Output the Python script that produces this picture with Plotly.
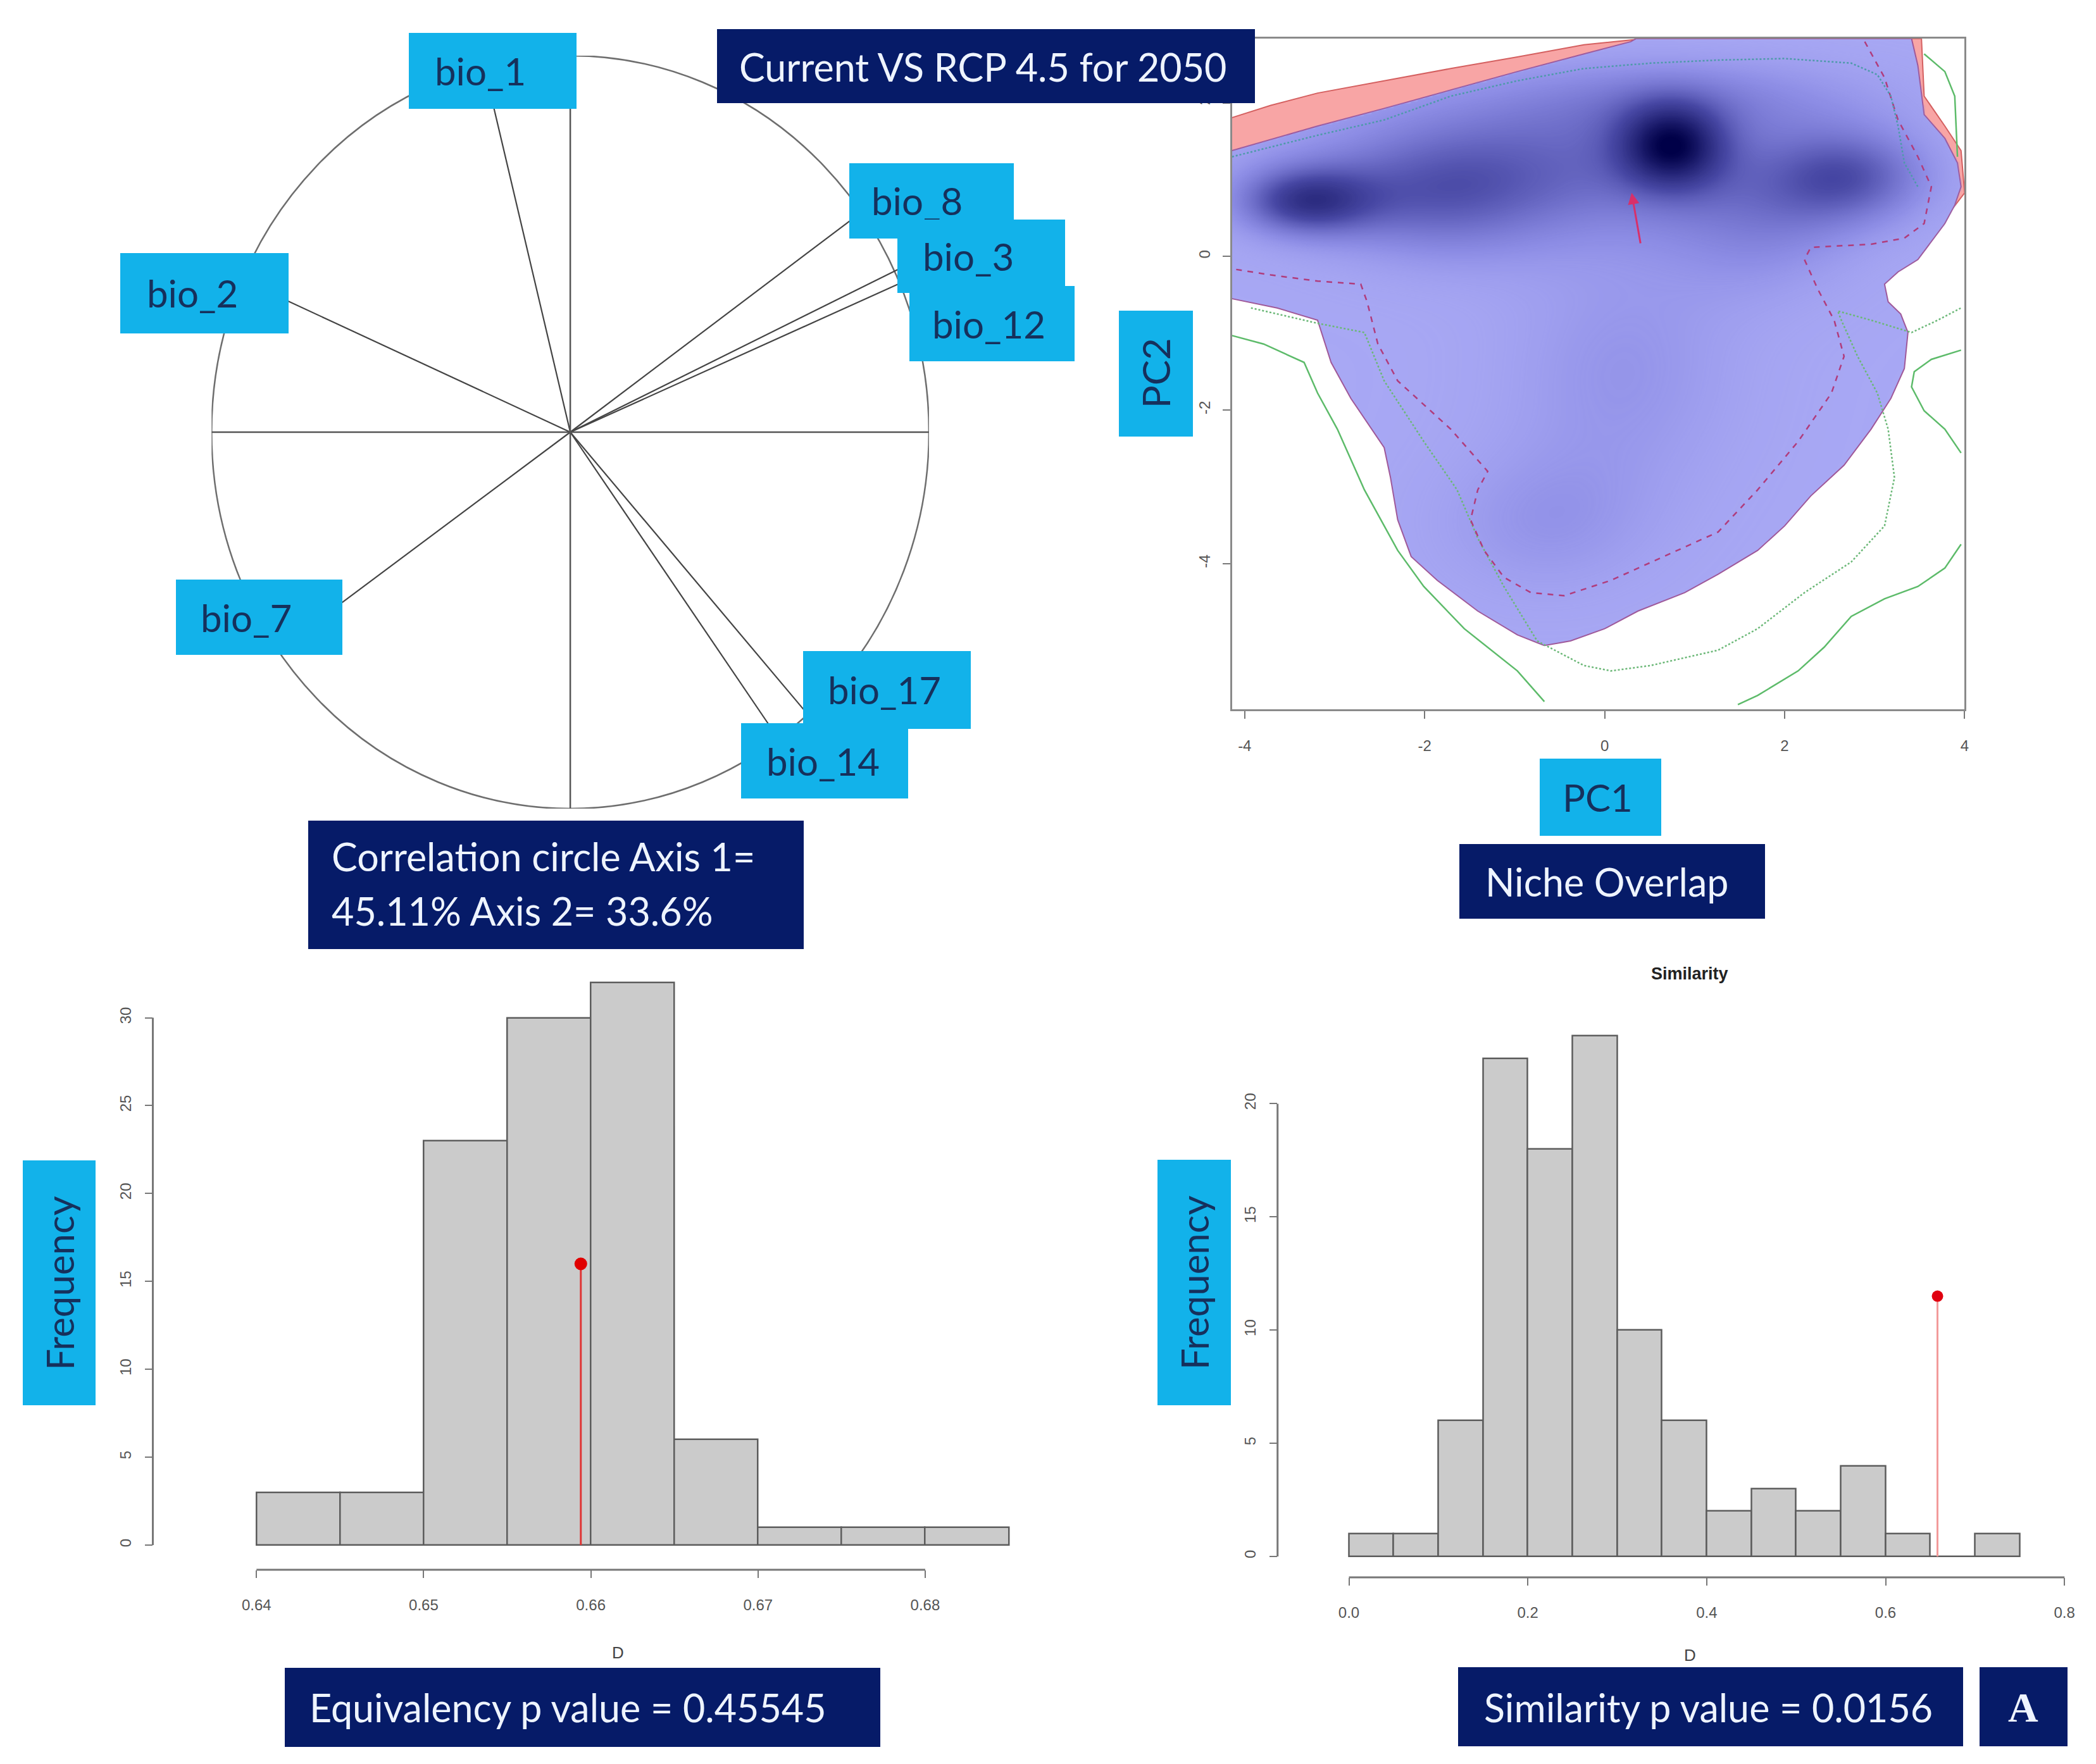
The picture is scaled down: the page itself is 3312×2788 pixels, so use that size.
import numpy as np
import plotly.graph_objects as go

W, H = 3312, 2788
def X(px): return px / W
def Y(py): return 1 - py / H

# ---------------- data ----------------
# correlation circle (variable loadings)
var_names = ["bio_1", "bio_2", "bio_8", "bio_3", "bio_12", "bio_7", "bio_17", "bio_14"]
var_x = [-0.23, -0.85, 0.80, 0.93, 0.93, -0.68, 0.68, 0.57]
var_y = [0.93, 0.376, 0.576, 0.44, 0.40, -0.484, -0.77, -0.80]

# niche overlap: outlines (PC1, PC2)
pink_x = [-4.14, -3.71, -3.19, -2.45, -1.71, -0.97, -0.23, 0.44, 3.52, 3.55, 3.78, 3.96, 4.0, 3.85, 3.0, -4.14]
pink_y = [1.81, 1.97, 2.13, 2.29, 2.45, 2.60, 2.76, 2.84, 2.84, 2.09, 1.70, 1.38, 0.83, 0.60, 0.50, 1.0]
blue_x = [-4.14, -3.19, -2.45, -1.71, -0.97, -0.23, 0.29, 0.35, 3.41, 3.48, 3.55, 3.78, 3.92, 3.96, 3.89, 3.78,
          3.63, 3.48, 3.26, 3.11, 3.15, 3.29, 3.37, 3.33, 3.18, 2.96, 2.66, 2.29, 2.00, 1.70, 1.26, 0.89, 0.37,
          0.00, -0.38, -0.67, -0.97, -1.41, -1.86, -2.15, -2.30, -2.38, -2.45, -2.82, -3.04, -3.19, -3.64, -4.14]
blue_y = [1.38, 1.70, 1.93, 2.17, 2.41, 2.64, 2.80, 2.84, 2.84, 2.49, 1.85, 1.54, 1.22, 0.91, 0.67, 0.43,
          0.20, -0.04, -0.20, -0.36, -0.59, -0.75, -0.99, -1.46, -1.85, -2.25, -2.72, -3.12, -3.51, -3.83, -4.14,
          -4.38, -4.62, -4.85, -5.01, -5.07, -4.93, -4.62, -4.22, -3.91, -3.43, -2.88, -2.49, -1.85, -1.38, -0.83,
          -0.67, -0.55]
# density hot spots: centre x, centre y, spread x, spread y, weight
spot_x = [0.75, -3.35, 2.75, -0.60, -1.90, 0.20, -0.70, 1.80, 0.9]
spot_y = [1.45, 0.72, 1.05, 1.20, 0.70, -1.50, -3.50, 0.40, 2.1]
spot_sx = [0.42, 0.55, 0.65, 2.00, 0.90, 1.00, 0.90, 0.80, 1.6]
spot_sy = [0.40, 0.33, 0.45, 0.70, 0.60, 1.20, 0.70, 0.70, 0.4]
spot_w = [0.62, 0.55, 0.42, 0.40, 0.28, 0.20, 0.18, 0.22, 0.22]

green_l_x = [-4.14, -3.79, -3.34, -3.19, -2.97, -2.67, -2.30, -2.01, -1.56, -0.97, -0.67]
green_l_y = [-1.03, -1.14, -1.38, -1.78, -2.25, -3.04, -3.83, -4.30, -4.85, -5.40, -5.80]
green_rb_x = [3.96, 3.78, 3.48, 3.11, 2.74, 2.44, 2.15, 1.70, 1.48]
green_rb_y = [-3.75, -4.06, -4.30, -4.46, -4.69, -5.09, -5.40, -5.72, -5.84]
green_rm_x = [3.96, 3.63, 3.44, 3.41, 3.55, 3.78, 3.96]
green_rm_y = [-1.22, -1.34, -1.50, -1.70, -2.01, -2.25, -2.56]
green_rt_x = [3.55, 3.78, 3.89, 3.92]
green_rt_y = [2.64, 2.41, 2.09, 1.30]
gdot_x = [-3.93, -3.19, -2.67, -2.45, -2.01, -1.64, -1.41, -1.12, -0.75, -0.23, 0.07, 0.51, 1.26, 1.70, 2.22,
          2.74, 3.11, 3.22, 3.15, 3.03, 2.81, 2.63, 2.59, 2.96, 3.41, 3.70, 3.96]
gdot_y = [-0.67, -0.87, -0.99, -1.62, -2.41, -3.04, -3.67, -4.30, -5.01, -5.33, -5.40, -5.33, -5.13, -4.85, -4.38,
          -3.98, -3.51, -2.88, -2.25, -1.78, -1.30, -0.83, -0.71, -0.83, -0.99, -0.83, -0.67]
mag_x = [2.89, 3.11, 3.26, 3.48, 3.63, 3.55, 3.33, 2.96, 2.29, 2.22, 2.37, 2.55, 2.66, 2.52, 2.15, 1.70, 1.26,
         0.66, 0.07, -0.45, -0.82, -1.12, -1.34, -1.49, -1.41, -1.30, -1.71, -2.30, -2.52, -2.64, -2.71, -3.19,
         -3.71, -4.14]
mag_y = [2.80, 2.33, 1.78, 1.30, 0.91, 0.43, 0.24, 0.16, 0.12, -0.04, -0.43, -0.83, -1.30, -1.78, -2.41, -3.04,
         -3.59, -3.91, -4.22, -4.42, -4.38, -4.18, -3.83, -3.43, -3.04, -2.80, -2.25, -1.62, -1.14, -0.59, -0.36,
         -0.32, -0.24, -0.16]
teal_x = [-4.14, -3.19, -2.45, -1.71, -0.97, -0.23, 0.51, 1.26, 2.00, 2.74, 3.03, 3.18, 3.26, 3.33, 3.48]
teal_y = [1.30, 1.58, 1.78, 2.09, 2.29, 2.45, 2.52, 2.56, 2.58, 2.52, 2.37, 2.09, 1.70, 1.22, 0.91]
arrow_from = (0.40, 0.16)
arrow_to = (0.30, 0.83)

# equivalency histogram
eq_left = [0.640, 0.645, 0.650, 0.655, 0.660, 0.665, 0.670, 0.675, 0.680]
eq_counts = [3, 3, 23, 30, 32, 6, 1, 1, 1]
eq_binw = 0.005
eq_obs = 0.6594
eq_obs_h = 16
eq_xticks = [0.64, 0.65, 0.66, 0.67, 0.68]
eq_xtext = ["0.64", "0.65", "0.66", "0.67", "0.68"]
eq_yticks = [0, 5, 10, 15, 20, 25, 30]

# similarity histogram
sim_left = [0.00, 0.05, 0.10, 0.15, 0.20, 0.25, 0.30, 0.35, 0.40, 0.45, 0.50, 0.55, 0.60, 0.65, 0.70]
sim_counts = [1, 1, 6, 22, 18, 23, 10, 6, 2, 3, 2, 4, 1, 0, 1]
sim_binw = 0.05
sim_obs = 0.658
sim_obs_h = 11.5
sim_xticks = [0.0, 0.2, 0.4, 0.6, 0.8]
sim_xtext = ["0.0", "0.2", "0.4", "0.6", "0.8"]
sim_yticks = [0, 5, 10, 15, 20]

# ---------------- style ----------------
CYAN = "#12B2EA"
NAVY = "#061B68"
CYAN_TXT = "#16305C"
NAVY_TXT = "#EEF4FF"
FONT = "Lato"
AXF = dict(family="Liberation Sans", size=24, color="#555555")

fig = go.Figure()

# ---------- panel 1 : correlation circle ----------
for vx, vy in zip(var_x, var_y):
    fig.add_trace(go.Scatter(x=[0, vx], y=[0, vy], mode="lines", line=dict(color="#444444", width=2.2),
                             xaxis="x", yaxis="y", hoverinfo="skip"))
fig.add_trace(go.Scatter(x=[-1, 1], y=[0, 0], mode="lines", line=dict(color="#555555", width=2.5),
                         xaxis="x", yaxis="y"))
fig.add_trace(go.Scatter(x=[0, 0], y=[-1, 1], mode="lines", line=dict(color="#555555", width=2.5),
                         xaxis="x", yaxis="y"))

# ---------- panel 2 : niche overlap ----------
fig.add_trace(go.Scatter(x=pink_x, y=pink_y, fill="toself", fillcolor="#F8A5A5", mode="lines",
                         line=dict(color="#D46060", width=2), xaxis="x2", yaxis="y2"))
fig.add_trace(go.Scatter(x=blue_x, y=blue_y, fill="toself", fillcolor="#A8A8F4", mode="lines",
                         line=dict(color="#A05898", width=2), xaxis="x2", yaxis="y2"))

gx = np.linspace(-4.14, 4.0, 300)
gy = np.linspace(-5.9, 2.84, 320)
GX, GY = np.meshgrid(gx, gy)
dens = np.zeros_like(GX)
for cx, cy, sx, sy, w in zip(spot_x, spot_y, spot_sx, spot_sy, spot_w):
    dens += w * np.exp(-0.5 * (((GX - cx) / sx) ** 2 + ((GY - cy) / sy) ** 2))
dens = np.clip(dens, 0, 1)
bx = np.array(blue_x); by = np.array(blue_y)
inside = np.zeros(GX.shape, dtype=bool)
j = len(bx) - 1
for i in range(len(bx)):
    cond = ((by[i] > GY) != (by[j] > GY)) & (GX < (bx[j] - bx[i]) * (GY - by[i]) / (by[j] - by[i] + 1e-12) + bx[i])
    inside ^= cond
    j = i
dens = np.where(inside, dens, 0.0)
# density drawn on an overlay axis so that it sits above the filled niche polygons
fig.add_trace(go.Heatmap(x=gx, y=gy, z=dens, zmin=0, zmax=1, zsmooth="best", showscale=False,
                         colorscale=[[0, "rgba(150,150,235,0)"], [0.25, "rgba(115,115,215,0.5)"],
                                     [0.6, "rgba(55,55,150,0.85)"], [1, "rgba(0,0,72,1)"]],
                         xaxis="x5", yaxis="y5", hoverinfo="skip"))

for lx, ly in [(green_l_x, green_l_y), (green_rb_x, green_rb_y), (green_rm_x, green_rm_y), (green_rt_x, green_rt_y)]:
    fig.add_trace(go.Scatter(x=lx, y=ly, mode="lines", line=dict(color="#5DBB6A", width=2.5),
                             xaxis="x5", yaxis="y5"))
fig.add_trace(go.Scatter(x=gdot_x, y=gdot_y, mode="lines", line=dict(color="#6CB878", width=2.5, dash="dot"),
                         xaxis="x5", yaxis="y5"))
fig.add_trace(go.Scatter(x=mag_x, y=mag_y, mode="lines", line=dict(color="#B03C7C", width=2.5, dash="dash"),
                         xaxis="x5", yaxis="y5"))
fig.add_trace(go.Scatter(x=teal_x, y=teal_y, mode="lines", line=dict(color="#4E9AAA", width=2.5, dash="dot"),
                         xaxis="x5", yaxis="y5"))

# ---------- panel 3 : equivalency histogram ----------
eq_centers = [l + eq_binw / 2 for l in eq_left]
fig.add_trace(go.Bar(x=eq_centers, y=eq_counts, width=eq_binw, marker=dict(color="#CBCBCB",
                     line=dict(color="#5C5C5C", width=2.5)), xaxis="x3", yaxis="y3"))
fig.add_trace(go.Scatter(x=[eq_obs, eq_obs], y=[0, eq_obs_h], mode="lines", line=dict(color="#E03535", width=3),
                         xaxis="x3", yaxis="y3"))
fig.add_trace(go.Scatter(x=[eq_obs], y=[eq_obs_h], mode="markers", marker=dict(color="#E00000", size=20),
                         xaxis="x3", yaxis="y3"))

# ---------- panel 4 : similarity histogram ----------
sim_centers = [l + sim_binw / 2 for l in sim_left]
fig.add_trace(go.Bar(x=sim_centers, y=sim_counts, width=sim_binw, marker=dict(color="#CBCBCB",
                     line=dict(color="#5C5C5C", width=2.5)), xaxis="x4", yaxis="y4"))
fig.add_trace(go.Scatter(x=[sim_obs, sim_obs], y=[0, sim_obs_h], mode="lines", line=dict(color="#F29A9A", width=3),
                         xaxis="x4", yaxis="y4"))
fig.add_trace(go.Scatter(x=[sim_obs], y=[sim_obs_h], mode="markers", marker=dict(color="#E00010", size=18),
                         xaxis="x4", yaxis="y4"))

# ---------------- layout ----------------
tick_common = dict(ticks="outside", ticklen=12, tickwidth=2, tickcolor="#777777", tickfont=AXF,
                   showgrid=False, zeroline=False)
fig.update_layout(
    width=W, height=H, margin=dict(l=0, r=0, t=0, b=0), paper_bgcolor="white", plot_bgcolor="white",
    showlegend=False, bargap=0,
    xaxis=dict(domain=[X(327), X(1463)], range=[-1, 1], visible=False, anchor="y"),
    yaxis=dict(domain=[Y(1270), Y(80)], range=[-1, 1], visible=False, anchor="x"),
    xaxis2=dict(domain=[X(1943), X(3103)], range=[-4.14, 4.0], anchor="y2", showline=True, mirror=True,
                linecolor="#8A8A8A", linewidth=3, tickvals=[-4, -2, 0, 2, 4],
                ticktext=["-4", "-2", "0", "2", "4"], ticklabelstandoff=22, **tick_common),
    yaxis2=dict(domain=[Y(1113), Y(53)], range=[-5.9, 2.84], anchor="x2", showline=True, mirror=True,
                linecolor="#8A8A8A", linewidth=3, tickvals=[-4, -2, 0, 2], ticktext=["-4", "-2", "0", "2"],
                tickangle=-90, ticklabelstandoff=10, **tick_common),
    xaxis5=dict(overlaying="x2", range=[-4.14, 4.0], anchor="y5", visible=False),
    yaxis5=dict(overlaying="y2", range=[-5.9, 2.84], anchor="x5", visible=False),
    xaxis3=dict(domain=[X(234), X(1600)], range=[0.6338, 0.6854], anchor="y3", showline=False,
                tickvals=eq_xticks, ticktext=eq_xtext, ticklabelstandoff=22, **tick_common),
    yaxis3=dict(domain=[Y(2473), Y(1530)], range=[-1.4, 32.54], anchor="x3", showline=False,
                tickvals=eq_yticks, tickangle=-90, ticklabelstandoff=12, **tick_common),
    xaxis4=dict(domain=[X(2015), X(3290)], range=[-0.0798, 0.8204], anchor="y4", showline=False,
                tickvals=sim_xticks, ticktext=sim_xtext, ticklabelstandoff=22, **tick_common),
    yaxis4=dict(domain=[Y(2485), Y(1560)], range=[-0.922, 24.93], anchor="x4", showline=False,
                tickvals=sim_yticks, tickangle=-90, ticklabelstandoff=12, **tick_common),
)

shapes = [
    dict(type="circle", xref="x", yref="y", x0=-1, x1=1, y0=-1, y1=1, line=dict(color="#6E6E6E", width=2.5),
         layer="below"),
    dict(type="line", xref="x3", yref="y3 domain", x0=eq_xticks[0], x1=eq_xticks[-1], y0=0, y1=0,
         line=dict(color="#777777", width=3)),
    dict(type="line", xref="x3 domain", yref="y3", x0=0, x1=0, y0=eq_yticks[0], y1=eq_yticks[-1],
         line=dict(color="#777777", width=3)),
    dict(type="line", xref="x4", yref="y4 domain", x0=sim_xticks[0], x1=sim_xticks[-1], y0=0, y1=0,
         line=dict(color="#777777", width=3)),
    dict(type="line", xref="x4 domain", yref="y4", x0=0, x1=0, y0=sim_yticks[0], y1=sim_yticks[-1],
         line=dict(color="#777777", width=3)),
]
fig.update_layout(shapes=shapes)

ann = []
def box(x0, y0, x1, y1, color):
    ann.append(dict(xref="paper", yref="paper", x=X((x0 + x1) / 2), y=Y((y0 + y1) / 2), xanchor="center",
                    yanchor="middle", text="\u00a0", showarrow=False, bgcolor=color, borderpad=0, borderwidth=0,
                    width=x1 - x0, height=y1 - y0, font=dict(size=10, color=color)))
def txt(px, py, s, color, size=60, anchor="left", angle=0, family=FONT, bold=False):
    ann.append(dict(xref="paper", yref="paper", x=X(px), y=Y(py), xanchor=anchor, yanchor="middle",
                    text=("<b>%s</b>" % s) if bold else s, showarrow=False, textangle=angle,
                    font=dict(family=family, size=size, color=color)))

# cyan variable labels (x0, y0, x1, y1, text left)
lab_boxes = {
    "bio_1": (640, 44, 905, 164, 678),
    "bio_2": (183, 392, 449, 519, 222),
    "bio_8": (1337, 250, 1597, 369, 1370),
    "bio_3": (1413, 339, 1678, 455, 1451),
    "bio_12": (1432, 444, 1693, 563, 1466),
    "bio_7": (271, 908, 534, 1027, 308),
    "bio_17": (1264, 1021, 1529, 1144, 1301),
    "bio_14": (1166, 1135, 1430, 1254, 1204),
}
for name in ["bio_1", "bio_2", "bio_8", "bio_3", "bio_12", "bio_7", "bio_17", "bio_14"]:
    x0, y0, x1, y1, tl = lab_boxes[name]
    box(x0, y0, x1, y1, CYAN)
    txt(tl, (y0 + y1) / 2, name, CYAN_TXT, size=60)

# navy title boxes
box(1128, 38, 1978, 155, NAVY)
txt(1160, 97, "Current VS RCP 4.5 for 2050", NAVY_TXT, size=61)
box(481, 1289, 1264, 1492, NAVY)
txt(515, 1345, "Correlation circle Axis 1=", NAVY_TXT, size=61)
txt(515, 1431, "45.11% Axis 2= 33.6%", NAVY_TXT, size=61)
box(1764, 483, 1881, 682, CYAN)
txt(1822, 582, "PC2", CYAN_TXT, size=60, anchor="center", angle=-90)
box(2430, 1191, 2622, 1313, CYAN)
txt(2522, 1252, "PC1", CYAN_TXT, size=60, anchor="center")
box(2303, 1326, 2786, 1444, NAVY)
txt(2342, 1385, "Niche Overlap", NAVY_TXT, size=61)
box(28, 1826, 143, 2213, CYAN)
txt(86, 2020, "Frequency", CYAN_TXT, size=60, anchor="center", angle=-90)
box(1825, 1825, 1941, 2213, CYAN)
txt(1883, 2019, "Frequency", CYAN_TXT, size=60, anchor="center", angle=-90)
box(444, 2628, 1385, 2753, NAVY)
txt(480, 2690, "Equivalency p value = 0.45545", NAVY_TXT, size=61)
box(2302, 2627, 3100, 2752, NAVY)
txt(2340, 2690, "Similarity p value = 0.0156", NAVY_TXT, size=61)
box(3127, 2627, 3266, 2752, NAVY)
txt(3196, 2690, "A", NAVY_TXT, size=66, anchor="center", family="Liberation Serif", bold=True)

# axis titles of R plots
txt(971, 2604, "D", "#444444", size=26, anchor="center", family="Liberation Sans")
txt(2668, 2608, "D", "#444444", size=26, anchor="center", family="Liberation Sans")
txt(2668, 1531, "Similarity", "#222222", size=27, anchor="center", family="Liberation Sans", bold=True)

# red arrow in the niche plot
ann.append(dict(xref="x2", yref="y2", axref="x2", ayref="y2", x=arrow_to[0], y=arrow_to[1],
                ax=arrow_from[0], ay=arrow_from[1], showarrow=True, arrowhead=2, arrowsize=1.2,
                arrowwidth=3, arrowcolor="#D8306A", text=""))

fig.update_layout(annotations=ann)
fig.write_html("out.html")
